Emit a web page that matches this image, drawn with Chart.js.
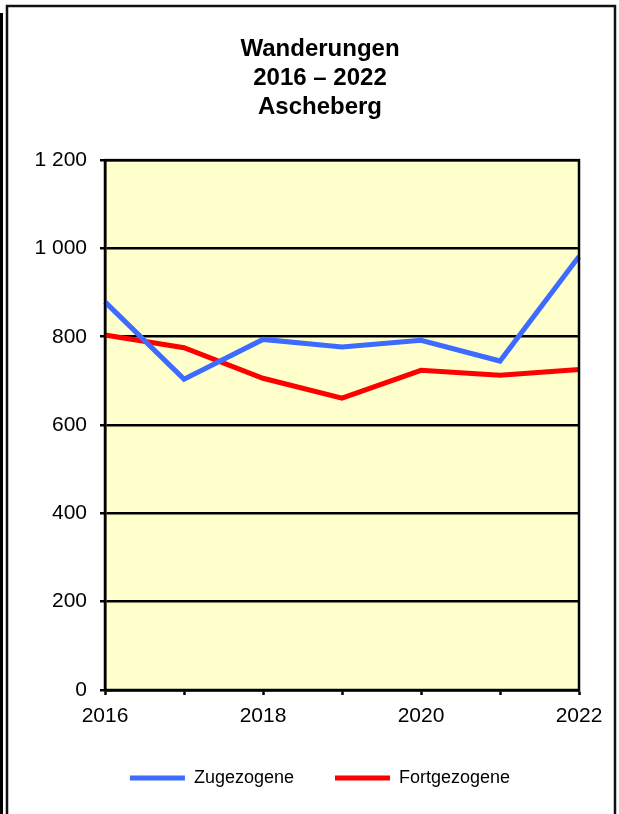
<!DOCTYPE html>
<html>
<head>
<meta charset="utf-8">
<script src="https://cdn.jsdelivr.net/npm/chart.js@4"></script>
<style>
  html, body { margin: 0; padding: 0; background: #fff; }
  #wrap { width: 619px; height: 814px; }
</style>
</head>
<body>
<div id="wrap"><canvas id="chart" width="619" height="814"></canvas></div>
<script>
// Chart data
const years = ['2016', '2017', '2018', '2019', '2020', '2021', '2022'];
const zugezogene = [879, 704, 794, 777, 792, 745, 982];
const fortgezogene = [804, 775, 706, 661, 724, 713, 726];
const titleLines = ['Wanderungen', '2016 – 2022', 'Ascheberg'];
const yTicks = [0, 200, 400, 600, 800, 1000, 1200];

const FONT = "'Liberation Sans', Arial, sans-serif";

// Page frame and yellow plot background
const framePlugin = {
    id: 'frame',
    beforeDraw(chart) {
        const ctx = chart.ctx;
        const area = chart.chartArea;
        ctx.save();
        ctx.fillStyle = '#ffffff';
        ctx.fillRect(0, 0, chart.width, chart.height);
        ctx.fillStyle = '#000000';
        ctx.fillRect(0, 13, 3, chart.height - 13);
        ctx.strokeStyle = '#111111';
        ctx.lineWidth = 2.5;
        ctx.beginPath();
        ctx.moveTo(7, chart.height + 5);
        ctx.lineTo(7, 6);
        ctx.lineTo(615, 6);
        ctx.lineTo(615, chart.height + 5);
        ctx.stroke();
        ctx.fillStyle = '#FFFFCC';
        ctx.fillRect(area.left, area.top, area.right - area.left, area.bottom - area.top);
        ctx.restore();
    },
    afterDatasetsDraw(chart) {
        const ctx = chart.ctx;
        const area = chart.chartArea;
        ctx.save();
        ctx.strokeStyle = '#000000';
        ctx.lineWidth = 2.5;
        ctx.strokeRect(area.left, area.top, area.right - area.left, area.bottom - area.top);
        ctx.restore();
    }
};

function formatThousands(v) {
    return String(v).replace(/\B(?=(\d{3})+(?!\d))/g, ' ');
}

new Chart(document.getElementById('chart'), {
    type: 'line',
    data: {
        labels: years,
        datasets: [
            {
                label: 'Zugezogene',
                data: zugezogene,
                borderColor: '#3D6BFF',
                backgroundColor: '#3D6BFF',
                borderWidth: 5,
                pointRadius: 0,
                tension: 0
            },
            {
                label: 'Fortgezogene',
                data: fortgezogene,
                borderColor: '#FF0000',
                backgroundColor: '#FF0000',
                borderWidth: 5,
                pointRadius: 0,
                tension: 0
            }
        ]
    },
    options: {
        responsive: false,
        animation: false,
        layout: {
            padding: { left: 21, right: 0, top: 0, bottom: 17 }
        },
        scales: {
            x: {
                offset: false,
                afterFit(scale) { scale.height = 38; },
                grid: {
                    drawOnChartArea: false,
                    drawTicks: true,
                    tickLength: 5,
                    tickWidth: 2.5,
                    tickColor: '#000000'
                },
                border: { color: '#000000', width: 2.5 },
                ticks: {
                    color: '#000000',
                    font: { family: FONT, size: 21 },
                    padding: 9,
                    maxRotation: 0,
                    autoSkip: false,
                    callback: function(value, index) {
                        return index % 2 === 0 ? years[index] : '';
                    }
                }
            },
            y: {
                min: 0,
                max: 1200,
                afterFit(scale) { scale.width = 84; },
                afterBuildTicks(scale) {
                    scale.ticks = yTicks.map(v => ({ value: v }));
                },
                grid: {
                    color: '#000000',
                    lineWidth: 2.5,
                    tickLength: 5,
                    drawTicks: true
                },
                border: { color: '#000000', width: 2.5 },
                ticks: {
                    color: '#000000',
                    font: { family: FONT, size: 21 },
                    padding: 13,
                    callback: function(value) {
                        return formatThousands(value);
                    }
                }
            },
            // empty right-hand axis, keeps room for the "2022" label
            yRight: {
                type: 'linear',
                position: 'right',
                afterFit(scale) { scale.width = 40; },
                grid: { display: false },
                border: { display: false },
                ticks: { display: false }
            }
        },
        plugins: {
            title: {
                display: true,
                text: titleLines,
                color: '#000000',
                font: { family: FONT, size: 24, weight: 'bold', lineHeight: 1.21 },
                padding: { top: 35, bottom: 38 }
            },
            legend: {
                display: true,
                position: 'bottom',
                labels: {
                    color: '#000000',
                    font: { family: FONT, size: 18 },
                    boxWidth: 55,
                    boxHeight: 0,
                    padding: 41
                }
            },
            tooltip: { enabled: false }
        }
    },
    plugins: [framePlugin]
});
</script>
</body>
</html>
